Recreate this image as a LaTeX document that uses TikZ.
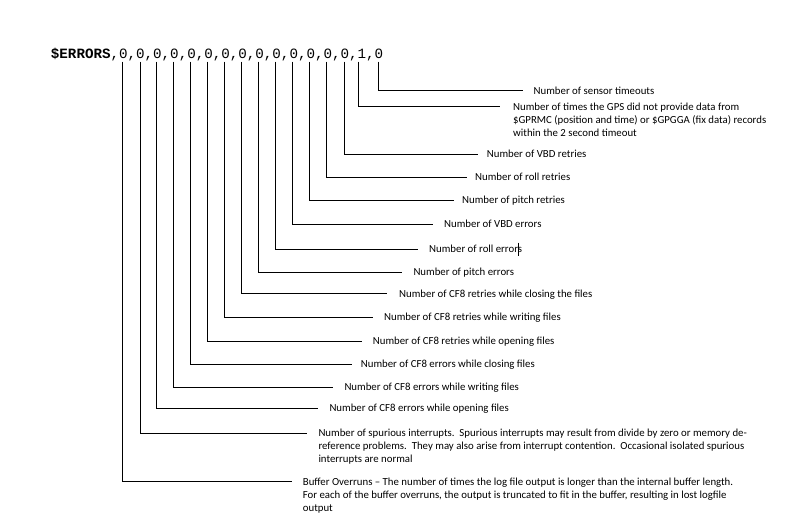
\documentclass[tikz,border=0pt]{standalone}
\usepackage{fontspec}
\setmainfont{Carlito}
\newfontfamily\hdrfont{Liberation Mono}
\begin{document}
\begin{tikzpicture}[x=1pt,y=-1pt,
  lbl/.style={anchor=base west, inner sep=0pt, font=\fontsize{10.8}{13}\selectfont},
  conn/.style={draw=black, line width=0.9pt},
  hdrstyle/.style={anchor=base west, inner sep=0pt, font=\hdrfont\fontsize{14.2}{16}\selectfont}]
\useasboundingbox (0,0) rectangle (807,528);
\node[hdrstyle] (hdr) at (50.75,58.3) {\textbf{\$ERRORS},0,0,0,0,0,0,0,0,0,0,0,0,0,0,1,0};
\foreach \i/\vx/\y/\ex/\tx/\txt in {
  1/378/90.7/523/533.5/{Number of sensor timeouts},
  2/358/106.5/500/513/{\vtop{\hbox{Number of times the GPS did not provide data from}\hbox{\$GPRMC (position and time) or \$GPGGA (fix data) records}\hbox{within the 2 second timeout}}},
  3/344/154.3/478/486.7/{Number of VBD retries},
  4/326.5/177.3/467/475/{Number of roll retries},
  5/309/200/454/462/{Number of pitch retries},
  6/292/224.3/432.7/444/{Number of VBD errors},
  7/275/249.3/417.5/429/{Number of roll errors},
  8/258.3/272/401.7/413.3/{Number of pitch errors},
  9/241.5/293.5/387.3/399/{Number of CF8 retries while closing the files},
  10/224.5/317/372.7/384/{Number of CF8 retries while writing files},
  11/207.5/341/361.7/372.7/{Number of CF8 retries while opening files},
  12/190.5/364/351.7/360.7/{Number of CF8 errors while closing files},
  13/173.5/387.3/333.3/344.3/{Number of CF8 errors while writing files},
  14/156.5/408.3/318.3/329.3/{Number of CF8 errors while opening files},
  15/140.7/433.3/306.7/318.3/{\vtop{\hbox{Number of spurious interrupts.\ \ Spurious interrupts may result from divide by zero or memory de-}\hbox{reference problems.\ \ They may also arise from interrupt contention.\ \ Occasional isolated spurious}\hbox{interrupts are normal}}},
  16/122.7/481.5/291.7/302.7/{\vtop{\hbox{Buffer Overruns – The number of times the log file output is longer than the internal buffer length.}\hbox{For each of the buffer overruns, the output is truncated to fit in the buffer, resulting in lost logfile}\hbox{output}}}}
{
  \coordinate (t\i) at (\vx,61.7);
  \coordinate (e\i) at (\ex,\y);
  \draw[conn] (t\i) |- (e\i);
  \node[lbl] (l\i) at (\tx,\y+3.5) {\txt};
}
\coordinate (cur1) at (518.3,242.7);
\coordinate (cur2) at (518.3,255.7);
\draw[line width=0.6pt] (cur1) -- (cur2);
\end{tikzpicture}
\end{document}
